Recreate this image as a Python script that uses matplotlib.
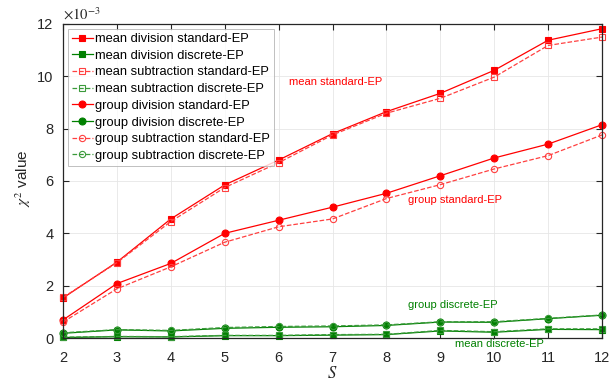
import matplotlib
matplotlib.use("Agg")
import matplotlib.pyplot as plt
import numpy as np

# S values
S = [2, 3, 4, 5, 6, 7, 8, 9, 10, 11, 12]

# chi^2 values in units of 1e-3
mean_div_std = [1.53, 2.90, 4.55, 5.85, 6.80, 7.81, 8.65, 9.35, 10.23, 11.38, 11.82]
mean_div_disc = [0.02, 0.05, 0.04, 0.09, 0.09, 0.11, 0.13, 0.27, 0.22, 0.33, 0.32]
mean_sub_std = [1.55, 2.88, 4.45, 5.75, 6.70, 7.76, 8.59, 9.16, 9.97, 11.18, 11.50]
mean_sub_disc = [0.03, 0.06, 0.05, 0.10, 0.10, 0.13, 0.14, 0.29, 0.24, 0.35, 0.35]
grp_div_std = [0.69, 2.08, 2.85, 4.00, 4.50, 5.00, 5.53, 6.20, 6.88, 7.41, 8.15]
grp_div_disc = [0.18, 0.31, 0.27, 0.37, 0.41, 0.43, 0.48, 0.61, 0.60, 0.74, 0.87]
grp_sub_std = [0.61, 1.88, 2.72, 3.66, 4.25, 4.55, 5.33, 5.86, 6.46, 6.97, 7.76]
grp_sub_disc = [0.20, 0.32, 0.29, 0.40, 0.44, 0.46, 0.50, 0.62, 0.62, 0.75, 0.88]

labels = ["mean division standard-EP", "mean division discrete-EP",
          "mean subtraction standard-EP", "mean subtraction discrete-EP",
          "group division standard-EP", "group division discrete-EP",
          "group subtraction standard-EP", "group subtraction discrete-EP"]

plt.rcParams['font.family'] = ['Liberation Sans', 'DejaVu Sans']
plt.rcParams['mathtext.fontset'] = 'stix'

fig = plt.figure(figsize=(6.1, 3.85), dpi=100)
ax = fig.add_axes([63/610, 1-338/385, (602-63)/610, (338-24)/385])

RED = '#ff0000'
GREEN = '#008000'
RED_L = '#ff4040'
GREEN_L = '#3a9a3a'

series = [
    (mean_div_std, RED, '-', 's', True),
    (mean_div_disc, GREEN, '-', 's', True),
    (mean_sub_std, RED_L, '--', 's', False),
    (mean_sub_disc, GREEN_L, '--', 's', False),
    (grp_div_std, RED, '-', 'o', True),
    (grp_div_disc, GREEN, '-', 'o', True),
    (grp_sub_std, RED_L, '--', 'o', False),
    (grp_sub_disc, GREEN_L, '--', 'o', False),
]
for (vals, c, ls, m, filled), lab in zip(series, labels):
    ax.plot(S, vals, color=c, linestyle=ls, marker=m, lw=0.9,
            markersize=5 if filled else 4.5,
            markerfacecolor=c if filled else 'none', markeredgecolor=c,
            markeredgewidth=0.8, label=lab, clip_on=False)

ax.set_xlim(2, 12)
ax.set_ylim(0, 12)
ax.set_xticks(S)
ax.set_yticks([0, 2, 4, 6, 8, 10, 12])
ax.grid(True, color='#e6e6e6', lw=0.6)
ax.set_axisbelow(True)
ax.tick_params(direction='in', top=True, right=True, labelsize=10.5,
               colors='#262626', length=4, width=0.8)
ax.tick_params(axis='x', pad=9)
ax.tick_params(axis='y', pad=7)
for sp in ax.spines.values():
    sp.set_color('#262626')
    sp.set_linewidth(0.9)

ax.set_xlabel('$S$', fontsize=12, color='#262626')
ax.xaxis.set_label_coords(0.5, -0.085)
ax.set_ylabel('$\\chi^2$ value', fontsize=11, color='#262626')
ax.yaxis.set_label_coords(-0.055, 0.51)
ax.text(0.0, 1.005, '$\\times10^{-3}$', transform=ax.transAxes, fontsize=10.5,
        color='#262626', ha='left', va='bottom', family='DejaVu Sans')

ax.text(7.05, 9.78, 'mean standard-EP', color=RED, fontsize=8, ha='center', va='center')
ax.text(9.27, 5.27, 'group standard-EP', color=RED, fontsize=8, ha='center', va='center')
ax.text(9.24, 1.26, 'group discrete-EP', color=GREEN, fontsize=8, ha='center', va='center')
ax.text(10.1, -0.22, 'mean discrete-EP', color=GREEN, fontsize=8, ha='center', va='center',
        clip_on=False)

leg = ax.legend(loc='upper left', fontsize=9.3, frameon=True, fancybox=False,
                edgecolor='#b0b0b0', handlelength=1.6, handletextpad=0.2,
                labelspacing=0.36, borderpad=0.3, borderaxespad=0.4)
leg.get_frame().set_linewidth(0.7)

fig.savefig('out.png', dpi=100)
